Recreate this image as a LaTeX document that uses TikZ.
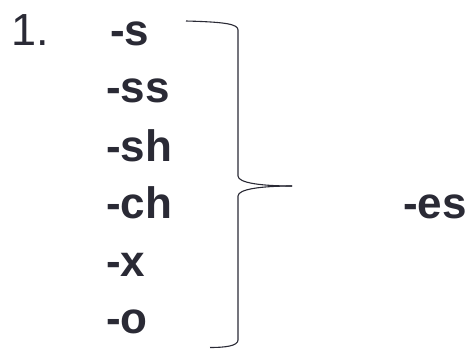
\documentclass[tikz,border=0pt]{standalone}
\usepackage{fontspec}
\setmainfont{Liberation Sans}
\definecolor{ink}{HTML}{2A2A35}
\begin{document}
\begin{tikzpicture}[x=1pt,y=-1pt,
  suffix/.style={anchor=base west,inner sep=0pt,text=ink,font=\fontsize{44}{44}\selectfont\bfseries},
  num/.style={anchor=base west,inner sep=0pt,text=ink,font=\fontsize{45}{45}\selectfont},
  brace/.style={draw=ink,line width=1.1pt}]
\useasboundingbox (0,0) rectangle (473,349);
\node[num] (n1) at (11,45) {1.};
\node[suffix] (s1) at (110,45) {-s};
\node[suffix] (s2) at (106,102) {-ss};
\node[suffix] (s3) at (106,161) {-sh};
\node[suffix] (s4) at (106,218) {-ch};
\node[suffix] (s5) at (106,276) {-x};
\node[suffix] (s6) at (106,333) {-o};
\node[suffix] (es) at (403,218) {-es};
\draw[brace] (186,21) .. controls (225,22) and (238,24) .. (238,30) -- (238,176)
  .. controls (238,183) and (262,186) .. (292,186);
\draw[brace] (292,186) .. controls (262,186) and (238,189) .. (238,196) -- (238,340)
  .. controls (238,346) and (225,347.5) .. (210,347.5);
\end{tikzpicture}
\end{document}
